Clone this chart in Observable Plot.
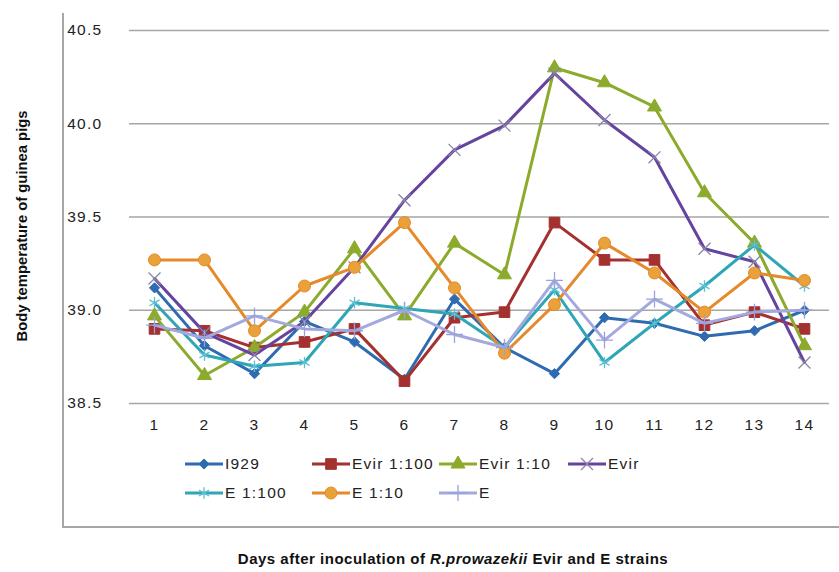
<!DOCTYPE html>
<html><head><meta charset="utf-8">
<script src="https://cdn.jsdelivr.net/npm/d3@7"></script>
<script src="https://cdn.jsdelivr.net/npm/@observablehq/plot@0.6"></script>
<style>
body{margin:0;background:#fff;font-family:"Liberation Sans",Arial,sans-serif;}
#wrap{position:relative;width:839px;height:572px;overflow:hidden;background:#fff;}
#frame{position:absolute;left:62px;top:13px;width:790px;height:513px;border-left:2px solid #a6a6a6;border-bottom:2px solid #a6a6a6;}
#chart{position:absolute;left:0;top:0;}
#legend{position:absolute;left:185px;top:452px;display:grid;grid-template-columns:127px 127px 129px 127px;row-gap:5px;}
.item{display:flex;align-items:center;height:24px;font-size:15.5px;letter-spacing:1.2px;color:#222;white-space:nowrap;}
.item svg{margin-right:2px;}
#ytitle{position:absolute;left:-128px;top:216px;width:300px;height:20px;line-height:20px;text-align:center;font-weight:bold;font-size:14.8px;transform:rotate(-90deg);color:#111;}
#xtitle{position:absolute;left:0;width:906px;top:550px;text-align:center;font-weight:bold;font-size:15px;letter-spacing:0.5px;color:#111;}
</style></head><body>
<div id="wrap"><div id="frame"></div><div id="chart"></div><div id="legend"></div>
<div id="ytitle">Body temperature of guinea pigs</div>
<div id="xtitle">Days after inoculation of <i>R.prowazekii</i> Evir and E strains</div></div>
<script>
const days = [1,2,3,4,5,6,7,8,9,10,11,12,13,14];
const yTicks = [38.5, 39.0, 39.5, 40.0, 40.5];
const seriesNames = ["I929","Evir 1:100","Evir 1:10","Evir","E 1:100","E 1:10","E"];
const i929    = [39.12, 38.81, 38.66, 38.94, 38.83, 38.63, 39.06, 38.80, 38.66, 38.96, 38.93, 38.86, 38.89, 39.00];
const evir100 = [38.90, 38.89, 38.80, 38.83, 38.90, 38.62, 38.96, 38.99, 39.47, 39.27, 39.27, 38.92, 38.99, 38.90];
const evir10  = [38.97, 38.65, 38.80, 38.99, 39.33, 38.97, 39.36, 39.19, 40.30, 40.22, 40.09, 39.63, 39.36, 38.81];
const evir    = [39.17, 38.88, 38.76, 38.94, 39.23, 39.59, 39.86, 39.99, 40.27, 40.02, 39.82, 39.33, 39.26, 38.72];
const e100    = [39.04, 38.76, 38.70, 38.72, 39.04, 39.01, 38.98, 38.80, 39.11, 38.72, 38.93, 39.13, 39.35, 39.13];
const e10     = [39.27, 39.27, 38.89, 39.13, 39.23, 39.47, 39.12, 38.77, 39.03, 39.36, 39.20, 38.99, 39.20, 39.16];
const eStrain = [38.92, 38.85, 38.97, 38.90, 38.89, 39.00, 38.87, 38.80, 39.16, 38.84, 39.06, 38.93, 38.99, 39.00];
const seriesValues = [i929, evir100, evir10, evir, e100, e10, eStrain];

const colors = ["#2E6BB0","#A3312F","#8CAB2D","#64449E","#2FA6B6","#E5892B","#A3A8DE"];
const markers = [
  {symbol:"diamond2", filled:true, r:4.6, fill:"#2E6BB0", stroke:"#2E6BB0"},
  {symbol:"square", filled:true, r:6.0, fill:"#A3312F", stroke:"#A3312F"},
  {symbol:"triangle", filled:true, r:5.2, fill:"#8CAB2D", stroke:"#8CAB2D"},
  {symbol:"times", filled:false, r:5.5, fill:"none", stroke:"#8a86a6"},
  {symbol:"asterisk", filled:false, r:5.5, fill:"none", stroke:"#5cc0d0"},
  {symbol:"circle", filled:true, r:6.0, fill:"#E9A23A", stroke:"#E5892B"},
  {symbol:"plus", filled:false, r:5.5, fill:"none", stroke:"#9aa0dc"}
];

const table = [];
seriesNames.forEach((s, i) => days.forEach((d, j) => table.push({series: s, day: d, temp: seriesValues[i][j]})));

const marks = [Plot.ruleY(yTicks, {stroke: "#a6a6a6", strokeWidth: 1.5})];
seriesNames.forEach((s, i) => {
  const data = table.filter(r => r.series === s);
  const m = markers[i];
  marks.push(Plot.line(data, {x: "day", y: "temp", stroke: "series", strokeWidth: 3}));
  marks.push(Plot.dot(data, {x: "day", y: "temp", symbol: m.symbol, r: m.r, fill: m.fill, stroke: m.stroke, strokeWidth: m.filled ? 1 : 1.3}));
});

const chart = Plot.plot({
  width: 839, height: 440,
  marginTop: 30, marginBottom: 37, marginLeft: 129, marginRight: 10,
  x: {domain: [0.5, 14.5], ticks: days, tickFormat: d => String(d), tickSize: 0, tickPadding: 15, label: null},
  y: {domain: [38.5, 40.5], ticks: yTicks, tickFormat: d => d.toFixed(1), tickSize: 0, tickPadding: 27, label: null},
  color: {domain: seriesNames, range: colors},
  style: {fontFamily: "Liberation Sans, Arial, sans-serif", fontSize: "15.5px", color: "#222", background: "transparent", overflow: "visible", letterSpacing: "1.3px"},
  marks
});
document.getElementById("chart").appendChild(chart);

const symMap = {diamond2: d3.symbolDiamond2, square: d3.symbolSquare, triangle: d3.symbolTriangle, times: d3.symbolTimes, asterisk: d3.symbolAsterisk, circle: d3.symbolCircle, plus: d3.symbolPlus};
const legend = document.getElementById("legend");
seriesNames.forEach((s, i) => {
  const m = markers[i];
  const div = document.createElement("div");
  div.className = "item";
  const path = d3.symbol(symMap[m.symbol], m.r * m.r * Math.PI)();
  div.innerHTML = `<svg width="38" height="16" viewBox="0 0 38 16"><line x1="0" x2="38" y1="8" y2="8" stroke="${colors[i]}" stroke-width="3"/><path transform="translate(19,8)" d="${path}" fill="${m.fill}" stroke="${m.stroke}" stroke-width="${m.filled ? 1 : 1.3}"/></svg><span>${s}</span>`;
  legend.appendChild(div);
});
</script>
</body></html>
